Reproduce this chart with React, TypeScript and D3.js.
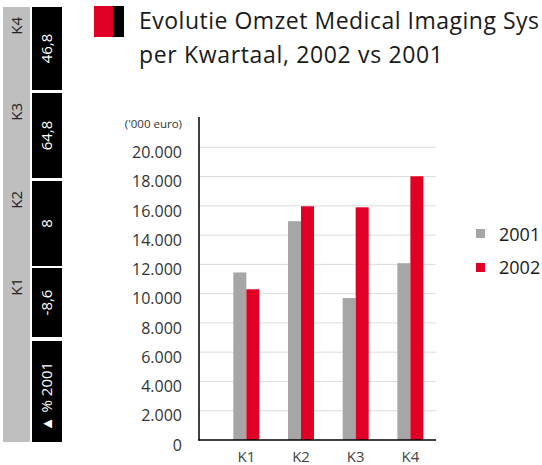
import React from 'react'
import * as d3 from 'd3'

// quarterly turnover, '000 euro
const quarters = ['K1', 'K2', 'K3', 'K4']
const omzet2001 = [11450, 14950, 9700, 12080]
const omzet2002 = [10300, 15970, 15900, 18020]
const seriesNames = ['2001', '2002']
const yTickValues = [0, 2000, 4000, 6000, 8000, 10000, 12000, 14000, 16000, 18000, 20000]

// side strip: growth vs 2001, top to bottom
const sideQuarters = ['K4', 'K3', 'K2', 'K1']
const sideGrowth = ['46,8', '64,8', '8', '-8,6']
const sideHeader = '\u25B2 % 2001'

const titleLines = ['Evolutie Omzet Medical Imaging Sys', 'per Kwartaal, 2002 vs 2001']

const width = 542
const height = 465
const grey = '#a6a6a6'
const red = '#e10025'
const font = '"Open Sans", sans-serif'

const nl = d3.formatLocale({ decimal: ',', thousands: '.', grouping: [3], currency: ['€', ''] })
const fmt = nl.format(',d')

export default function App() {
  const y = d3.scaleLinear().domain([0, 20000]).range([440, 147.3])
  const x = d3.scaleBand().domain(quarters).range([219, 437.7]).padding(0)
  const barW = 13
  const axisX = 199
  const gridEnd = 436

  // side cells (top, bottom)
  const cells: [number, number][] = [[7, 90], [93, 178], [181, 266], [268, 337], [341, 442]]

  return (
    <div style={{ position: 'absolute', left: 0, top: 0 }}>
      <svg width={width} height={height} style={{ display: 'block', fontFamily: font }}>
        <rect width={width} height={height} fill="#fff" />

        {/* side strip */}
        <rect x={3} y={7} width={27} height={435} fill="#bfbfbf" />
        {cells.map((c, i) => (
          <rect key={'c' + i} x={32} y={c[0]} width={30} height={c[1] - c[0]} fill="#000" />
        ))}
        {sideQuarters.map((q, i) => (
          <text key={'sq' + i} transform={`translate(22,${cells[i][0] + 10}) rotate(-90)`}
            textAnchor="end" fontSize={15} fill="#222">{q}</text>
        ))}
        {sideGrowth.map((g, i) => (
          <text key={'sg' + i} transform={`translate(52,${(cells[i][0] + cells[i][1]) / 2}) rotate(-90)`}
            textAnchor="middle" fontSize={15} fill="#fff">{g}</text>
        ))}
        <text transform={`translate(52,${(cells[4][0] + cells[4][1]) / 2 + 5}) rotate(-90)`}
          textAnchor="middle" fontSize={15} fill="#fff">{sideHeader}</text>

        {/* title */}
        <rect x={94} y={6} width={19} height={31} fill={red} />
        <rect x={113} y={6} width={11} height={31} fill="#000" />
        <text x={139} y={29} fontSize={23} fill="#1a1a1a" textLength={400} lengthAdjust="spacing">{titleLines[0]}</text>
        <text x={139} y={63} fontSize={23} fill="#1a1a1a" textLength={304} lengthAdjust="spacing">{titleLines[1]}</text>

        {/* grid */}
        {yTickValues.filter(v => v > 0).map(v => (
          <line key={'g' + v} x1={axisX} x2={gridEnd} y1={y(v)} y2={y(v)} stroke="#dcdcdc" strokeWidth={1} />
        ))}
        {yTickValues.map(v => (
          <text key={'t' + v} x={182} y={y(v) + 5} dy="0.36em" textAnchor="end" fontSize={16} fill="#333">{fmt(v)}</text>
        ))}
        <text x={182} y={128} textAnchor="end" fontSize={11.5} fill="#333">('000 euro)</text>

        {/* bars */}
        {quarters.map((q, i) => {
          const cx = (x(q) as number) + x.bandwidth() / 2
          return (
            <g key={q}>
              <rect x={cx - barW} y={y(omzet2001[i])} width={barW} height={y(0) - y(omzet2001[i])} fill={grey} />
              <rect x={cx} y={y(omzet2002[i])} width={barW} height={y(0) - y(omzet2002[i])} fill={red} />
              <text x={cx} y={462} textAnchor="middle" fontSize={15} fill="#444">{q}</text>
            </g>
          )
        })}

        {/* axes */}
        <line x1={axisX} x2={axisX} y1={117} y2={440.5} stroke="#000" strokeWidth={1.5} />
        <line x1={axisX - 0.75} x2={gridEnd} y1={440} y2={440} stroke="#000" strokeWidth={1.5} />

        {/* legend */}
        {seriesNames.map((s, i) => (
          <g key={s}>
            <rect x={476} y={229 + i * 34} width={9} height={9} fill={i === 0 ? grey : red} />
            <text x={499} y={241 + i * 33} fontSize={18} fill="#1a1a1a">{s}</text>
          </g>
        ))}
      </svg>
    </div>
  )
}
